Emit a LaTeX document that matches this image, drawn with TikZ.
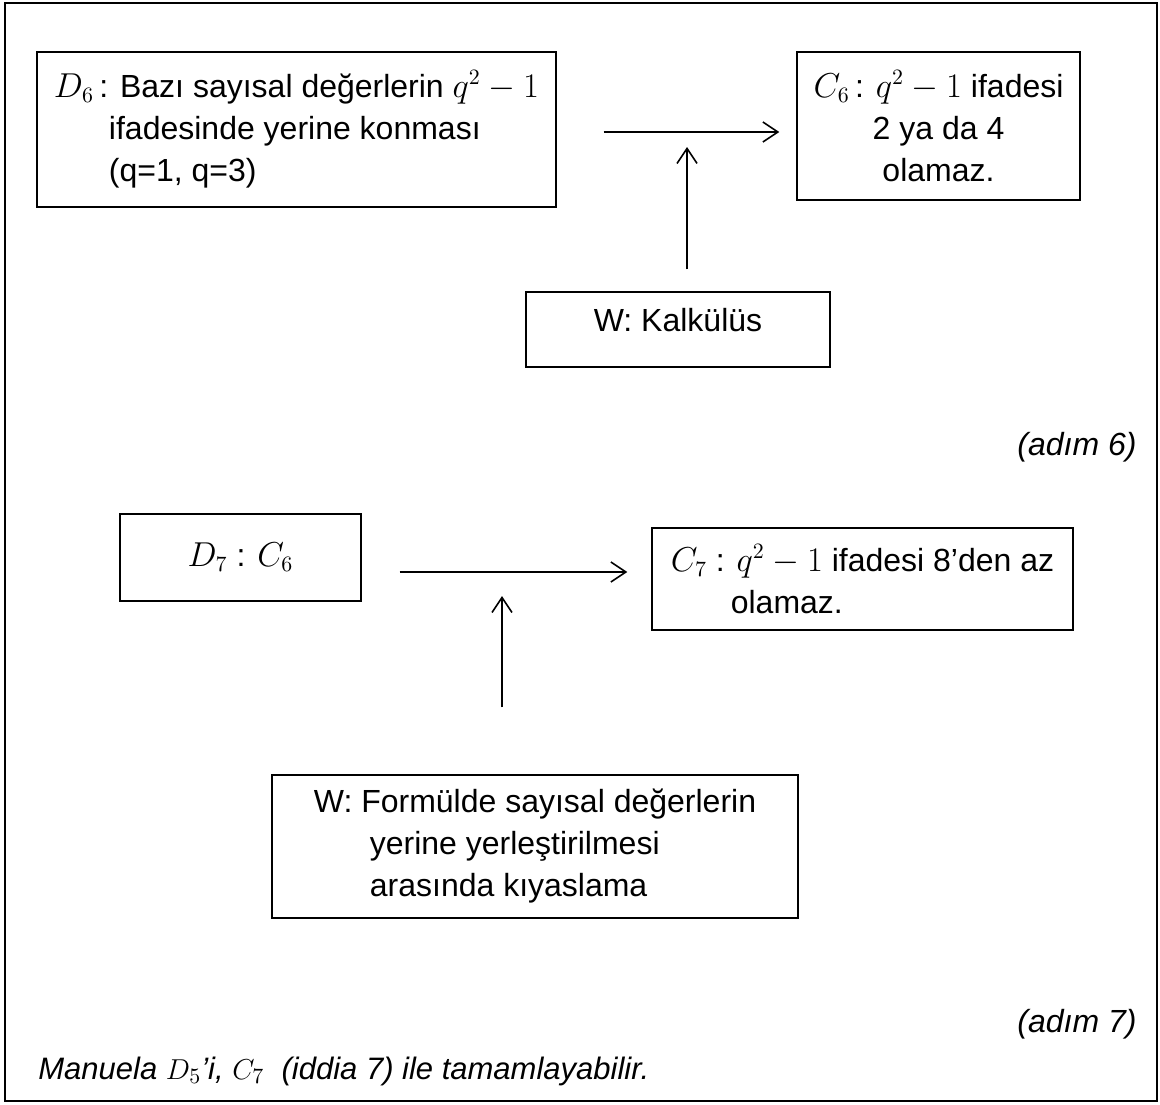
\documentclass[tikz,border=0pt]{standalone}
\usepackage{fontspec}
\setmainfont{Liberation Sans}
\usetikzlibrary{positioning,arrows.meta}

\begin{document}
\begin{tikzpicture}[x=0.5pt, y=-0.5pt,
    every node/.style = {inner sep=0pt, font=\fontsize{16pt}{21pt}\selectfont},
    box/.style = {draw, line width=0.7pt},
    arr/.style = {-{Straight Barb[length=7.5pt,width=10pt]}, line width=0.8pt}]
    \useasboundingbox (0,0) rectangle (1160,1104);
    \draw[line width=0.9pt] (5,3) rectangle (1157,1101);

    % step 6
    \node (d6) [box, minimum width=259.5pt, minimum height=77.5pt, align=left] at (296.5,129.5)
        {$D_6$\,: Bazı sayısal değerlerin $q^2-1$\\
         \hspace*{27.5pt}ifadesinde yerine konması\\
         \hspace*{27.5pt}(q=1, q=3)};
    \node (c6) [box, minimum width=141.5pt, minimum height=74pt, align=center] at (938.5,126)
        {$C_6$\,: $q^2-1$ ifadesi\\ 2 ya da 4\\ olamaz.};
    \node (wk) [box, minimum width=152pt, minimum height=37.5pt, text depth=10pt] at (678,329.5) {W: Kalkülüs};
    \node (a6) [anchor=east, font=\fontsize{16pt}{21pt}\selectfont\itshape] at (1137,447) {(adım 6)};
    \coordinate (h6) at (0,132);
    \coordinate (v6) at (687,147);
    \draw[arr] ([xshift=23.5pt]d6.east |- h6) -- ([xshift=-8.5pt]c6.west |- h6);
    \draw[arr] ([yshift=11pt]wk.north -| v6) -- (v6);

    % step 7
    \node (d7) [box, minimum width=120.5pt, minimum height=43.5pt] at (240.5,557.5) {$D_7$ : $C_6$};
    \node (c7) [box, minimum width=210.5pt, minimum height=51pt, align=left] at (862.5,579)
        {$C_7$ : $q^2-1$ ifadesi 8’den az\\
         \hspace*{30pt}olamaz.};
    \node (wf) [box, minimum width=263pt, minimum height=71.5pt, align=left] at (535,846.5)
        {W: Formülde sayısal değerlerin\\
         \hspace*{28pt}yerine yerleştirilmesi\\
         \hspace*{28pt}arasında kıyaslama};
    \node (a7) [anchor=east, font=\fontsize{16pt}{21pt}\selectfont\itshape] at (1137,1024) {(adım 7)};
    \coordinate (h7) at (0,572);
    \coordinate (v7) at (502,596);
    \draw[arr] ([xshift=19pt]d7.east |- h7) -- ([xshift=-12pt]c7.west |- h7);
    \draw[arr] ([yshift=33.5pt]wf.north -| v7) -- (v7);

    \node (note) [anchor=west, font=\fontsize{15.5pt}{21pt}\selectfont\itshape] at (38,1071)
        {Manuela $D_5$’i, $C_7$\ \ (iddia 7) ile tamamlayabilir.};
\end{tikzpicture}
\end{document}
